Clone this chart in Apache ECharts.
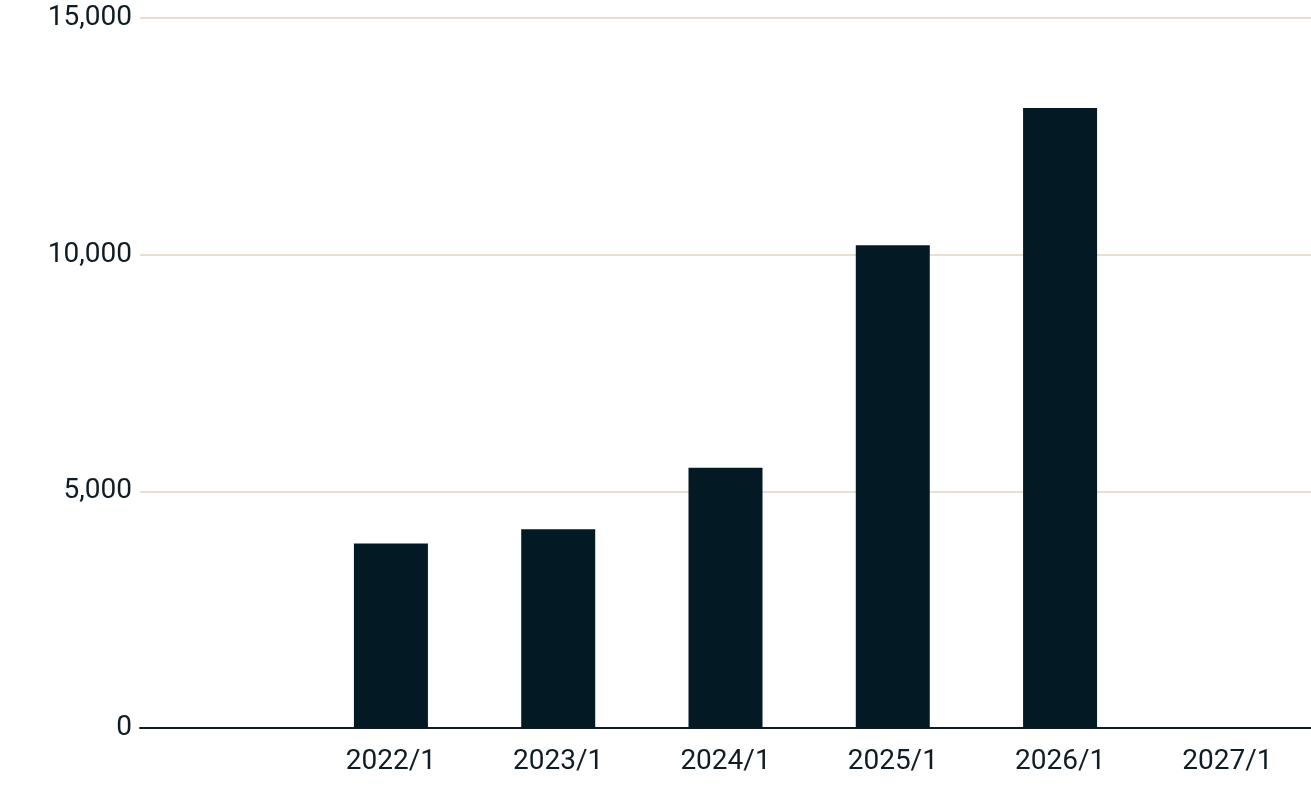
<!DOCTYPE html>
<html><head><meta charset="utf-8">
<script src="https://cdn.jsdelivr.net/npm/echarts@6/dist/echarts.min.js"></script>
<style>html,body{margin:0;padding:0;background:#fff}#c{width:1311px;height:801px}</style>
</head><body><div id="c"></div>
<script>
const categories = ["", "2022/1", "2023/1", "2024/1", "2025/1", "2026/1", "2027/1"];
const values = [null, 3900, 4200, 5500, 10200, 13100, null];
const yTicks = [0, 5000, 10000, 15000];
const chart = echarts.init(document.getElementById('c'));
chart.setOption({
  animation: false,
  grid: {left: 140, top: 18, width: 1176, bottom: 73, containLabel: false},
  xAxis: {
    type: 'category', data: categories,
    axisLine: {lineStyle: {color: '#0f1c24', width: 2}},
    axisTick: {show: false},
    axisLabel: {color: '#0f1c24', fontSize: 28, fontFamily: 'Roboto', margin: 20}
  },
  yAxis: {
    type: 'value', min: yTicks[0], max: yTicks[yTicks.length-1], interval: 5000,
    axisLine: {show: false}, axisTick: {show: false},
    splitLine: {lineStyle: {color: '#e9dfcf', width: 2}},
    axisLabel: {color: '#0f1c24', fontSize: 28, fontFamily: 'Roboto', margin: 8,
      formatter: v => v.toLocaleString('en-US')}
  },
  series: [{type: 'bar', data: values, barWidth: 74, itemStyle: {color: '#031a24'}}]
});
</script></body></html>
